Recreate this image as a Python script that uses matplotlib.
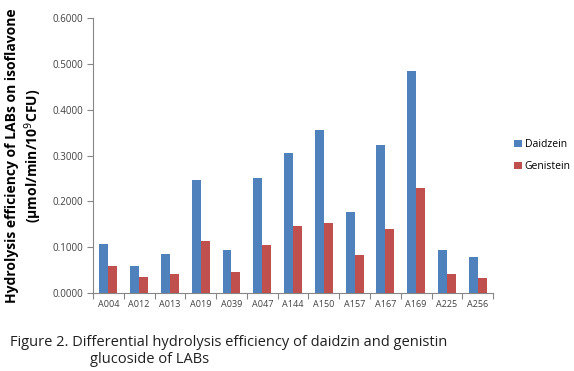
import numpy as np
import matplotlib.pyplot as plt

strains = ['A004', 'A012', 'A013', 'A019', 'A039', 'A047', 'A144',
           'A150', 'A157', 'A167', 'A169', 'A225', 'A256']
daidzein = [0.107, 0.060, 0.085, 0.247, 0.095, 0.251, 0.305,
            0.357, 0.177, 0.323, 0.485, 0.093, 0.078]
genistein = [0.059, 0.036, 0.041, 0.114, 0.047, 0.105, 0.146,
             0.153, 0.084, 0.140, 0.229, 0.041, 0.034]

plt.rcParams['font.family'] = ['Open Sans', 'DejaVu Sans']

fig = plt.figure(figsize=(5.74, 3.71), dpi=100)
ax = fig.add_axes([0.162, 0.21, 0.697, 0.741])

x = np.arange(len(strains))
w = 0.29
ax.bar(x - w / 2, daidzein, w, color='#4F81BD', label='Daidzein')
ax.bar(x + w / 2, genistein, w, color='#C0504D', label='Genistein')

ax.set_xlim(-0.5, len(strains) - 0.5)
ax.set_ylim(0, 0.6)
ax.set_yticks(np.arange(0, 0.61, 0.1))
ax.set_yticklabels([f'{v:.4f}' for v in np.arange(0, 0.61, 0.1)])
ax.set_xticks(x)
ax.set_xticklabels(strains)
ax.set_xticks(np.arange(-0.5, len(strains)), minor=True)

for s in ['top', 'right']:
    ax.spines[s].set_visible(False)
for s in ['left', 'bottom']:
    ax.spines[s].set_color('#868686')
    ax.spines[s].set_linewidth(0.8)

ax.tick_params(axis='y', labelsize=7, colors='#868686', labelcolor='#404040',
               length=4, width=0.8, pad=3)
ax.tick_params(axis='x', which='major', length=0, labelsize=6.5,
               labelcolor='#404040', pad=5)
ax.tick_params(axis='x', which='minor', length=4, width=0.8, colors='#868686')

ax.set_ylabel('Hydrolysis efficiency of LABs on isoflavone\n(µmol/min/10$^{9}$CFU)',
              fontsize=10, fontweight='bold', labelpad=6, linespacing=1.25)

ax.legend(loc='center left', bbox_to_anchor=(1.03, 0.5), frameon=False,
          fontsize=7.5, handlelength=0.7, handleheight=0.7, handletextpad=0.3,
          labelspacing=1.0)

fig.text(0.017, 0.078, 'Figure 2. Differential hydrolysis efficiency of daidzin and genistin',
         fontsize=10.5, color='#202020', va='center')
fig.text(0.157, 0.03, 'glucoside of LABs', fontsize=10.5, color='#202020', va='center')

fig.savefig('out.png', dpi=100)
